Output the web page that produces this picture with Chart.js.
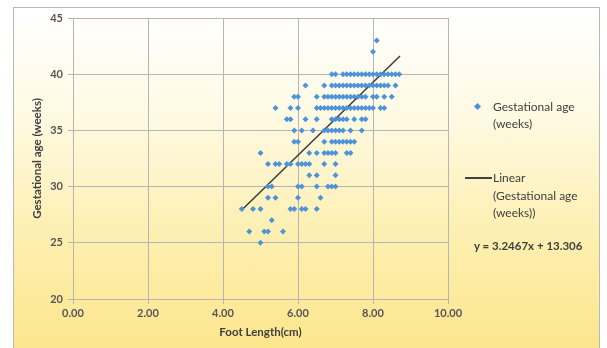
<!DOCTYPE html>
<html>
<head>
<meta charset="utf-8">
<script src="https://cdn.jsdelivr.net/npm/chart.js@4.4.0/dist/chart.umd.min.js"></script>
<style>
  html, body { margin: 0; padding: 0; background: #fff; }
  #wrap { position: relative; width: 607px; height: 348px; overflow: hidden; font-family: Lato, "Liberation Sans", sans-serif; }
  #frame {
    position: absolute; left: 13px; top: 7px; width: 585px; height: 350px;
    border: 1px solid #b8b8b8;
    background: linear-gradient(to bottom, #ffffff 0%, #fefae4 30%, #fdefb0 65%, #fce58a 100%);
  }
  #myChart { position: absolute; left: 0; top: 0; }
  .leg { position: absolute; color: #404040; font-size: 12px; line-height: 17px; }
  .marker { position: absolute; width: 5px; height: 5px; background: #4a90d9; transform: rotate(45deg); }
  .trend { position: absolute; height: 1.5px; background: #404040; }
</style>
</head>
<body>
<div id="wrap">
  <div id="frame"></div>
  <canvas id="myChart" width="607" height="348"></canvas>
  <div class="marker" style="left:475px; top:104px;"></div>
  <div class="leg" style="left:493px; top:98px;">Gestational age<br>(weeks)</div>
  <div class="trend" style="left:465px; top:177px; width:27px;"></div>
  <div class="leg" style="left:493px; top:169px; line-height:17.5px;">Linear<br>(Gestational age<br>(weeks))</div>
  <div class="leg" style="left:474px; top:237px; font-weight:bold; font-size:11.5px;">y = 3.2467x + 13.306</div>
</div>
<script>
// gestational age (weeks) rows and the foot lengths (cm) found on each row
const weeks = [43, 42, 40, 39, 38, 37, 36, 35, 34, 33, 32, 31, 30, 29, 28, 27, 26, 25];
const footLengths = [
    [8.1],
    [8.0],
    [6.9, 7.0, 7.2, 7.3, 7.4, 7.5, 7.6, 7.7, 7.8, 7.9, 8.0, 8.1, 8.2, 8.3, 8.4, 8.5, 8.6, 8.7],
    [6.2, 6.7, 6.9, 7.0, 7.1, 7.2, 7.3, 7.4, 7.5, 7.6, 7.7, 7.8, 7.9, 8.0, 8.1, 8.2, 8.3, 8.4, 8.6],
    [5.9, 6.0, 6.5, 6.7, 6.8, 6.9, 7.0, 7.1, 7.2, 7.3, 7.4, 7.5, 7.6, 7.7, 7.8, 8.0, 8.1, 8.3, 8.5],
    [5.4, 5.8, 6.0, 6.5, 6.6, 6.7, 6.8, 6.9, 7.0, 7.1, 7.2, 7.3, 7.4, 7.5, 7.6, 7.7, 7.8, 7.9, 8.0, 8.2, 8.3],
    [5.7, 5.8, 6.2, 6.5, 6.9, 7.0, 7.1, 7.2, 7.3, 7.5, 7.7, 7.8],
    [5.9, 6.1, 6.4, 6.7, 6.8, 6.9, 7.0, 7.1, 7.2, 7.4, 7.7],
    [5.9, 6.0, 6.7, 6.9, 7.0, 7.1, 7.2, 7.3, 7.4, 7.5],
    [5.0, 6.3, 6.5, 6.7, 6.8, 6.9, 7.0, 7.3, 7.4],
    [5.2, 5.4, 5.5, 5.7, 5.8, 6.0, 6.1, 6.2, 6.3, 6.7, 7.0],
    [6.3, 6.5, 7.0],
    [5.2, 5.3, 6.0, 6.1, 6.5, 6.8, 6.9, 7.0],
    [5.2, 5.4, 6.0, 6.6],
    [4.5, 4.8, 5.0, 5.8, 5.9, 6.1, 6.2, 6.5],
    [5.3],
    [4.7, 5.1, 5.2, 5.6],
    [5.0]
];
// linear trendline end points
const trendX = [4.5, 8.72];
const trendY = [27.92, 41.62];

const xTicks = [0, 2, 4, 6, 8, 10];
const yTicks = [20, 25, 30, 35, 40, 45];

const points = [];
weeks.forEach(function(w, i) {
    footLengths[i].forEach(function(f) {
        points.push({ x: f, y: w });
    });
});
const trend = trendX.map(function(x, i) { return { x: x, y: trendY[i] }; });

const gridColor = '#b5b5b5';
const ctx = document.getElementById('myChart').getContext('2d');
const chart = new Chart(ctx, {
    type: 'scatter',
    data: {
        datasets: [
            {
                label: 'Gestational age (weeks)',
                data: points,
                pointStyle: 'rectRot',
                pointRadius: 3,
                borderWidth: 0,
                backgroundColor: '#4d93da',
                borderColor: '#4d93da'
            },
            {
                type: 'line',
                label: 'Linear (Gestational age (weeks))',
                data: trend,
                borderColor: '#3a3a3a',
                borderWidth: 1.5,
                pointRadius: 0,
                fill: false
            }
        ]
    },
    options: {
        responsive: false,
        animation: false,
        layout: { padding: { left: 0, top: 18, right: 159, bottom: 0 } },
        plugins: {
            legend: { display: false },
            tooltip: { enabled: false }
        },
        scales: {
            x: {
                type: 'linear',
                min: 0,
                max: 10,
                afterFit: function(s) { s.height = 49; },
                afterBuildTicks: function(s) { s.ticks = xTicks.map(function(v) { return { value: v }; }); },
                grid: { color: gridColor, tickLength: 5 },
                border: { color: gridColor },
                ticks: {
                    padding: 3,
                    color: '#555555',
                    font: { family: 'Lato', size: 11, weight: 'bold' },
                    callback: function(v) { return v.toFixed(2); }
                },
                title: {
                    display: true,
                    text: 'Foot Length(cm)',
                    color: '#404040',
                    padding: { top: 0, bottom: 9 },
                    font: { family: 'Lato', size: 11.5, weight: 'bold' }
                }
            },
            y: {
                min: 20,
                max: 45,
                afterFit: function(s) { s.width = 73; },
                afterBuildTicks: function(s) { s.ticks = yTicks.map(function(v) { return { value: v }; }); },
                grid: { color: gridColor, tickLength: 5 },
                border: { color: gridColor },
                ticks: {
                    padding: 5,
                    color: '#555555',
                    font: { family: 'Lato', size: 11, weight: 'bold' }
                },
                title: {
                    display: true,
                    text: 'Gestational age (weeks)',
                    color: '#404040',
                    padding: { top: 30, bottom: 0 },
                    font: { family: 'Lato', size: 11.5, weight: 'bold' }
                }
            }
        }
    }
});
</script>
</body>
</html>
